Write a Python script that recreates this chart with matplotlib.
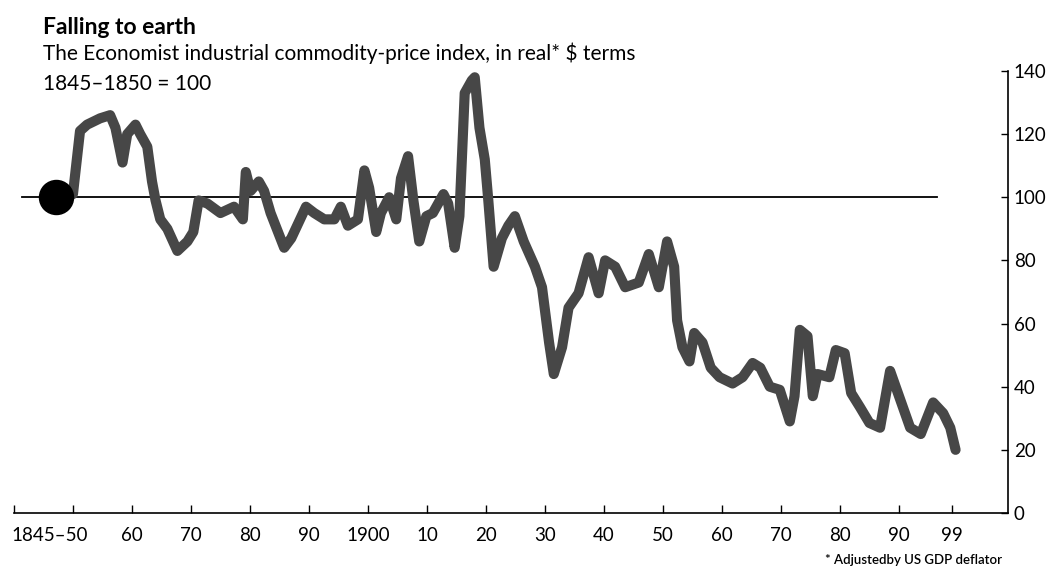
import numpy as np
import matplotlib
matplotlib.use("Agg")
from matplotlib import pyplot as plt

# index values (real terms, 1845-1850 = 100)
years = [1850.0, 1851.2, 1852.4, 1854.6, 1856.3, 1857.2, 1858.4, 1859.2, 1860.6, 1861.4,
         1862.6, 1863.4, 1864.0, 1864.8, 1866.0, 1867.7, 1869.4, 1870.4, 1871.3, 1872.8,
         1875.0, 1877.3, 1878.8, 1879.3, 1880.1, 1881.5, 1882.4, 1883.5, 1885.8, 1887.0,
         1889.5, 1890.9, 1892.6, 1894.3, 1895.4, 1896.6, 1898.3, 1899.4, 1900.2, 1901.4,
         1902.2, 1903.6, 1904.8, 1905.6, 1906.8, 1907.7, 1908.7, 1909.9, 1911.0, 1912.8,
         1913.6, 1914.7, 1915.5, 1916.4, 1917.6, 1918.1, 1918.9, 1919.8, 1920.4, 1921.3,
         1922.7, 1923.8, 1924.9, 1926.4, 1928.3, 1929.5, 1930.7, 1931.5, 1932.9, 1934.0,
         1935.7, 1937.4, 1939.1, 1940.2, 1941.9, 1943.6, 1945.9, 1947.6, 1949.3, 1950.7,
         1951.9, 1952.4, 1953.3, 1954.5, 1955.3, 1956.7, 1958.1, 1959.6, 1961.8, 1963.5,
         1965.2, 1966.5, 1968.1, 1969.8, 1971.5, 1972.3, 1973.2, 1974.5, 1975.4, 1976.2,
         1978.2, 1979.3, 1980.8, 1981.9, 1983.4, 1985.0, 1986.8, 1988.5, 1990.2, 1991.9,
         1993.7, 1995.8, 1997.5, 1998.7, 1999.6]
index = [101, 121, 123, 125, 126, 122, 111, 120, 123, 120,
         116, 105, 99, 93, 90, 83, 86, 89, 99, 98,
         95, 97, 93, 108, 102, 105, 102, 95, 84, 87,
         97, 95, 93, 93, 97, 91, 93, 108.5, 103, 89,
         95, 100, 93, 106, 113, 99, 86, 94, 95, 101,
         98, 84, 94, 133, 137, 138, 122, 112, 99, 78,
         87, 91, 94, 86, 78, 71.5, 54, 44, 52.5, 65,
         69.6, 81, 69.6, 80, 78, 71.5, 73, 82, 71.5, 86,
         78, 61, 52.5, 48, 57, 54, 46, 43, 41, 43,
         47.5, 46, 40, 39, 29, 37, 58, 56, 37, 44,
         43, 51.6, 50.6, 38, 33.5, 28.5, 27, 45, 36, 27,
         25, 35, 31.6, 27, 20]

base_year = 1847.2
base_value = 100
base_line_years = [1841.4, 1996.5]

tick_years = [1840, 1850, 1860, 1870, 1880, 1890, 1900, 1910, 1920, 1930,
              1940, 1950, 1960, 1970, 1980, 1990, 1999]
tick_labels = ['', '', '60', '70', '80', '90', '1900', '10', '20', '30',
               '40', '50', '60', '70', '80', '90', '99']
y_ticks = [0, 20, 40, 60, 80, 100, 120, 140]

plt.rcParams['font.family'] = ['Lato', 'DejaVu Sans']

fig = plt.figure(figsize=(10.49, 5.77), dpi=100)
ax = fig.add_axes([0.0133, 0.111, 0.9477, 0.766])

ax.plot(base_line_years, [base_value, base_value], color='black', linewidth=1.3, zorder=2)
ax.plot(years, index, color='#474747', linewidth=7.3, solid_joinstyle='round',
        solid_capstyle='round', zorder=3)
ax.scatter([base_year], [base_value], s=600, color='black', zorder=4)

ax.set_xlim(1840, 2008.5)
ax.set_ylim(0, 140)

ax.spines['left'].set_visible(False)
ax.spines['top'].set_visible(False)
ax.spines['right'].set_linewidth(1.2)
ax.spines['bottom'].set_linewidth(1.2)

ax.yaxis.tick_right()
ax.set_yticks(y_ticks)
ax.tick_params(axis='y', direction='in', length=5, width=1, labelsize=13.5, pad=4)

ax.set_xticks(tick_years)
ax.set_xticklabels(tick_labels)
ax.set_xticks([1846], minor=True)
ax.set_xticklabels(['1845\u201350'], minor=True)
ax.tick_params(axis='x', which='major', direction='in', length=6, width=1,
               labelsize=13.5, pad=10)
ax.tick_params(axis='x', which='minor', direction='in', length=0, labelsize=13.5, pad=10)

fig.text(0.041, 0.953, 'Falling to earth', fontsize=16.5, fontweight='bold', va='center')
fig.text(0.041, 0.908, 'The Economist industrial commodity-price index, in real* $ terms',
         fontsize=15, va='center')
fig.text(0.041, 0.855, '1845\u20131850 = 100', fontsize=15, va='center')
fig.text(0.955, 0.03, '* Adjustedby US GDP deflator', fontsize=9.5,
         fontweight='semibold', ha='right', va='center')

fig.savefig('out.png', dpi=100)
